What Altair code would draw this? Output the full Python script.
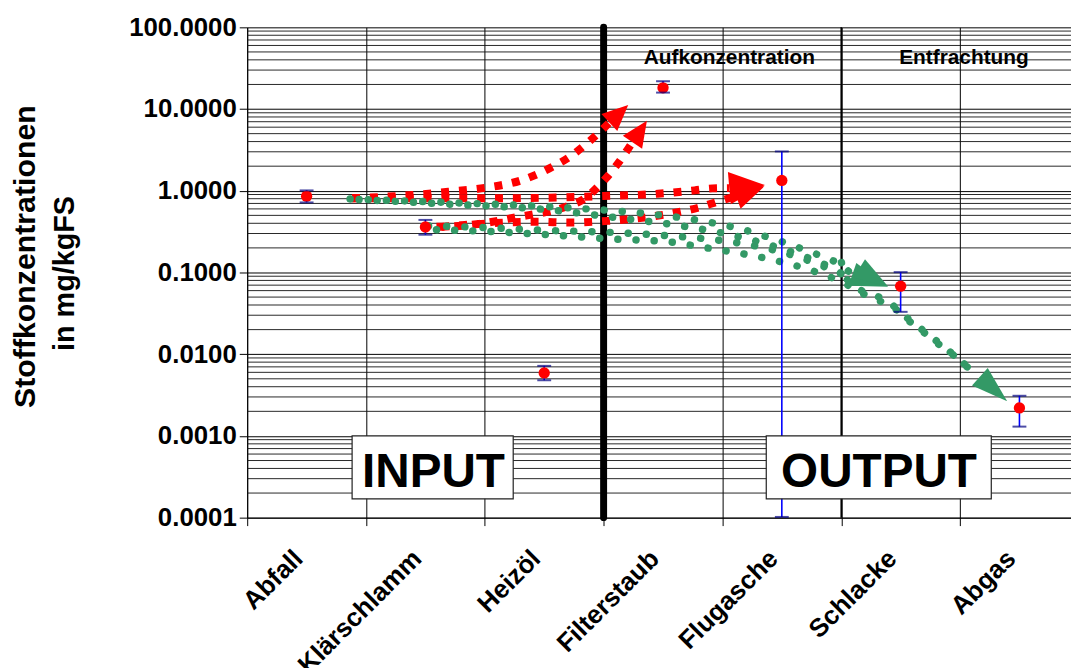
import altair as alt
import pandas as pd

# ---------------- data ----------------
categories = ["Abfall", "Klärschlamm", "Heizöl", "Filterstaub", "Flugasche", "Schlacke", "Abgas"]
mean_vals = [0.86, 0.36, 0.0059, 18.2, 1.34, 0.068, 0.0022]
lo_vals = [0.72, 0.29, 0.0048, 15.9, 0.000102, 0.033, 0.0013]
hi_vals = [1.01, 0.44, 0.0072, 21.9, 3.03, 0.101, 0.0031]

y_ticks = [0.0001, 0.001, 0.01, 0.1, 1, 10, 100]

# trend arrows (x in category units from left edge, y in mg/kgFS)
red_A_x = [0.883, 1.384, 1.693, 2.003, 2.303, 2.579, 2.721, 2.846, 2.957, 3.048]
red_A_y = [0.809, 0.887, 0.972, 1.087, 1.337, 1.995, 2.64, 3.66, 5.07, 6.83]
red_B_x = [1.593, 1.802, 1.952, 2.111, 2.261, 2.428, 2.562, 2.704, 2.846, 2.957, 3.063, 3.158, 3.243]
red_B_y = [0.362, 0.3725, 0.394, 0.4285, 0.4725, 0.521, 0.567, 0.652, 0.815, 1.14, 1.687, 2.567, 3.93]
red_C_x = [0.883, 1.510, 2.011, 2.529, 2.997, 3.457, 3.765, 3.915, 4.058]
red_C_y = [0.809, 0.809, 0.809, 0.822, 0.862, 0.920, 1.011, 1.069, 1.078]
red_D_x = [1.635, 2.429, 2.721, 3.036, 3.342, 3.648, 3.799, 3.952, 4.116]
red_D_y = [0.362, 0.417, 0.4087, 0.4285, 0.47, 0.5557, 0.6216, 0.7292, 0.862]

green_1_x = [0.866, 1.343, 1.952, 2.412, 2.902, 3.362, 3.821, 4.127, 4.417, 4.709, 4.999, 5.094]
green_1_y = [0.793, 0.75, 0.695, 0.652, 0.594, 0.526, 0.4285, 0.349, 0.261, 0.185, 0.1217, 0.0946]
green_2_x = [0.941, 1.718, 2.485, 3.097, 3.707, 4.016, 4.322, 4.615, 4.907, 5.069]
green_2_y = [0.782, 0.684, 0.594, 0.47, 0.362, 0.3003, 0.2335, 0.1717, 0.116, 0.0846]
green_3_x = [1.526, 1.983, 2.454, 3.072, 3.537, 3.999, 4.308, 4.601, 4.893, 5.085]
green_3_y = [0.3725, 0.355, 0.3304, 0.309, 0.2817, 0.2449, 0.207, 0.161, 0.112, 0.0846]
green_4_x = [1.593, 2.094, 2.595, 3.072, 3.537, 3.840, 4.150, 4.450, 4.751, 5.033, 5.177,
             5.311, 5.436, 5.561, 5.670, 5.795, 5.921, 6.038, 6.167]
green_4_y = [0.3332, 0.315, 0.2857, 0.2568, 0.238, 0.2031, 0.1717, 0.14, 0.1058, 0.0729, 0.0556,
             0.0457, 0.0376, 0.02615, 0.01976, 0.01413, 0.01039, 0.00742, 0.00531]
green_5_x = [5.002, 5.035, 5.152, 5.286, 5.411, 5.536, 5.653, 5.770, 5.896, 6.013, 6.130]
green_5_y = [0.1323, 0.0894, 0.0622, 0.0526, 0.0421, 0.02924, 0.0215, 0.0158, 0.0113, 0.00807, 0.00594]

red_arrow_id = ["A", "B", "C", "D"]
red_arrow_x = [3.048, 3.243, 4.058, 4.116]
red_arrow_y = [6.83, 3.93, 1.078, 0.862]
red_arrow_dir = [47, 34, 85, 71]
green_arrow_id = ["S1", "S2", "G"]
green_arrow_x = [5.094, 5.152, 6.167]
green_arrow_y = [0.0946, 0.112, 0.00531]
green_arrow_dir = [109, 122, 132]

box_labels = ["INPUT", "OUTPUT"]
box_x1 = [0.883, 4.369]
box_x2 = [2.239, 6.263]
box_top = [0.001, 0.001]
box_bottom = [0.000170, 0.000170]
box_text_x = [1.568, 5.318]
box_text_y = [0.000238, 0.000238]

region_labels = ["Aufkonzentration", "Entfrachtung"]
region_x = [4.058, 6.033]
region_y = [35.9, 35.9]

divider_x = [3]
separator_x = [5]

y_title = ["Stoffkonzentrationen", "in mg/kgFS"]

# ---------------- styles / layout ----------------
FONT = "Liberation Sans"
BAND = 119.7
W = 830
H = 494
XMAX = W / BAND
RED = "#FF0000"
GREEN = "#339966"
ARROW_LEN = {"A": 26, "B": 26, "C": 36, "D": 30, "S1": 38, "S2": 34, "G": 37}

xs = alt.Scale(domain=[0, XMAX], nice=False, zero=False)
ys = alt.Scale(type="log", domain=[0.0001, 100], nice=False)

XAX = alt.Axis(values=list(range(7)), grid=True, labels=False, ticks=True, tickSize=8, title=None,
               domainColor="black", tickColor="black", gridColor="black", gridWidth=1, gridOpacity=1)
YAX = alt.Axis(values=y_ticks, format=".4f", title=None, grid=True, gridColor="black", gridOpacity=1,
               tickSize=8, tickColor="black", domainColor="black", labelFontSize=26, labelFont=FONT,
               labelFontWeight="bold", labelColor="black", labelPadding=3)


def X(field):
    return alt.X(field, scale=xs, axis=XAX)


def Y(field):
    return alt.Y(field, scale=ys, axis=YAX)


pts = pd.DataFrame({
    "cat": categories,
    "pos": [i + 0.5 for i in range(len(categories))],
    "mean": mean_vals, "lo": lo_vals, "hi": hi_vals,
})

minor = [m * d for d in y_ticks[:-1] for m in range(2, 10)]
grid_df = pd.DataFrame({"v": minor})


def curves(named):
    rows = []
    for name, (xv, yv) in named.items():
        for k, (a, b) in enumerate(zip(xv, yv)):
            rows.append({"id": name, "k": k, "x": a, "y": b})
    return pd.DataFrame(rows)


red_df = curves({"A": (red_A_x, red_A_y), "B": (red_B_x, red_B_y),
                 "C": (red_C_x, red_C_y), "D": (red_D_x, red_D_y)})
green_df = curves({"1": (green_1_x, green_1_y), "2": (green_2_x, green_2_y),
                   "3": (green_3_x, green_3_y), "4": (green_4_x, green_4_y),
                   "5": (green_5_x, green_5_y)})

red_arr = pd.DataFrame({"id": red_arrow_id, "x": red_arrow_x, "y": red_arrow_y, "angle": red_arrow_dir})
red_arr["sz"] = [(2 * ARROW_LEN[i]) ** 2 for i in red_arrow_id]
green_arr = pd.DataFrame({"id": green_arrow_id, "x": green_arrow_x, "y": green_arrow_y, "angle": green_arrow_dir})
green_arr["sz"] = [(2 * ARROW_LEN[i]) ** 2 for i in green_arrow_id]

boxes = pd.DataFrame({"label": box_labels, "x1": box_x1, "x2": box_x2, "top": box_top,
                      "bottom": box_bottom, "tx": box_text_x, "ty": box_text_y})
regions = pd.DataFrame({"label": region_labels, "x": region_x, "y": region_y})
div_df = pd.DataFrame({"x": divider_x, "y1": [100], "y2": [0.0001]})
sep_df = pd.DataFrame({"x": separator_x, "y1": [100], "y2": [0.0001]})

minor_grid = alt.Chart(grid_df).mark_rule(color="#111111", strokeWidth=1, opacity=0.9).encode(
    y=Y("v:Q"))

divider = alt.Chart(div_df).mark_rule(color="black", strokeWidth=7, strokeCap="round").encode(
    x=X("x:Q"), y=Y("y1:Q"), y2="y2:Q")
separator = alt.Chart(sep_df).mark_rule(color="black", strokeWidth=1.6).encode(
    x=X("x:Q"), y=Y("y1:Q"), y2="y2:Q")

red_lines = alt.Chart(red_df).mark_line(
    color=RED, strokeWidth=8, strokeDash=[8, 10], strokeCap="butt", interpolate="monotone"
).encode(x=X("x:Q"), y=Y("y:Q"), detail="id:N", order="k:Q")

green_lines = alt.Chart(green_df).mark_line(
    color=GREEN, strokeWidth=7.5, strokeDash=[0.1, 18.2], strokeCap="round", interpolate="monotone"
).encode(x=X("x:Q"), y=Y("y:Q"), detail="id:N", order="k:Q")

red_heads = alt.Chart(red_arr).mark_point(
    shape="M0,-1L0.45,0L-0.45,0Z", filled=True, color=RED, opacity=1
).encode(x=X("x:Q"), y=Y("y:Q"),
         angle=alt.Angle("angle:Q", scale=None), size=alt.Size("sz:Q", scale=None))

green_heads = alt.Chart(green_arr).mark_point(
    shape="M0,-1L0.32,0L-0.32,0Z", filled=True, color=GREEN, opacity=1
).encode(x=X("x:Q"), y=Y("y:Q"),
         angle=alt.Angle("angle:Q", scale=None), size=alt.Size("sz:Q", scale=None))

err = alt.Chart(pts).mark_rule(color="#0000FF", strokeWidth=1.6).encode(
    x=X("pos:Q"), y=Y("lo:Q"), y2="hi:Q")
cap_lo = alt.Chart(pts).mark_tick(orient="horizontal", color="#000080", size=14, thickness=2).encode(
    x=X("pos:Q"), y=Y("lo:Q"))
cap_hi = alt.Chart(pts).mark_tick(orient="horizontal", color="#000080", size=14, thickness=2).encode(
    x=X("pos:Q"), y=Y("hi:Q"))

points = alt.Chart(pts).mark_circle(size=130, color=RED, opacity=1).encode(
    x=X("pos:Q"), y=Y("mean:Q"))

box_rect = alt.Chart(boxes).mark_rect(fill="white", stroke="#222222", strokeWidth=1.2).encode(
    x=X("x1:Q"), x2="x2:Q", y=Y("top:Q"), y2="bottom:Q")
box_text = alt.Chart(boxes).mark_text(
    font=FONT, fontSize=48, fontWeight="bold", color="black", align="center", baseline="alphabetic"
).encode(x=X("tx:Q"), y=Y("ty:Q"), text="label:N")

region_text = alt.Chart(regions).mark_text(
    font=FONT, fontSize=21, fontWeight="bold", color="black", align="center", baseline="alphabetic"
).encode(x=X("x:Q"), y=Y("y:Q"), text="label:N")

x_labels = alt.Chart(pts).mark_text(
    font=FONT, fontSize=26, fontWeight="bold", color="black", angle=315, align="right",
    baseline="alphabetic"
).transform_calculate(lx="datum.pos - 0.02").encode(
    x=X("lx:Q"), y=alt.value(H + 43), text="cat:N")

title_df = pd.DataFrame({"t": y_title, "line": [0, 1]})
title1 = alt.Chart(title_df).transform_filter("datum.line == 0").mark_text(
    font=FONT, fontSize=30.5, fontWeight="bold", color="black", angle=270, align="center",
    baseline="alphabetic").encode(x=alt.value(-214), y=alt.value(231), text="t:N")
title2 = alt.Chart(title_df).transform_filter("datum.line == 1").mark_text(
    font=FONT, fontSize=29, fontWeight="bold", color="black", angle=270, align="center",
    baseline="alphabetic").encode(x=alt.value(-175), y=alt.value(248), text="t:N")

chart = alt.layer(
    minor_grid, divider, separator, red_lines, green_lines, red_heads, green_heads,
    err, points, cap_lo, cap_hi, box_rect, box_text, region_text, x_labels, title1, title2
).properties(
    width=W, height=H,
    padding={"left": 241, "top": 17, "right": 0, "bottom": 149},
    autosize=alt.AutoSizeParams(type="none"),
    background="white",
).configure_view(stroke=None)

chart.save("out.html", embed_options={"renderer": "svg", "actions": False})
